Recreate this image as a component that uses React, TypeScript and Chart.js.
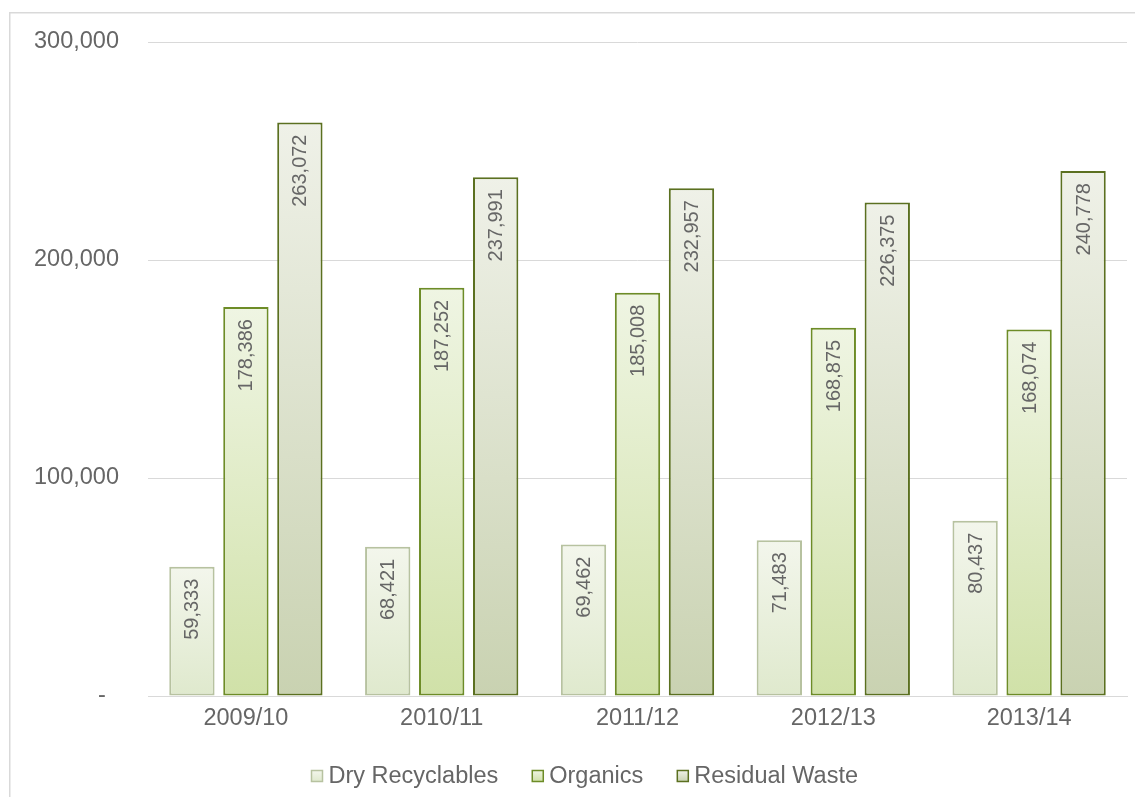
import React, { useEffect, useRef } from "react";
import { Chart, registerables } from "chart.js";

Chart.register(...registerables);

const categories = ["2009/10", "2010/11", "2011/12", "2012/13", "2013/14"];
const seriesNames = ["Dry Recyclables", "Organics", "Residual Waste"];
const dryRecyclables = [59333, 68421, 69462, 71483, 80437];
const organics = [178386, 187252, 185008, 168875, 168074];
const residualWaste = [263072, 237991, 232957, 226375, 240778];
const yTicks = [0, 100000, 200000, 300000];

const gradTop = ["#f3f6ec", "#eff5e3", "#eff1e8"];
const gradBottom = ["#dfe9cd", "#d0e1a8", "#c9d2b1"];
const borders = ["#b7c2a0", "#6d8c27", "#5b7020"];

const FONT = "'Liberation Sans', Arial, sans-serif";
const TEXT = "#666666";
const AXIS_FONT = 23.5;

function fmt(v: number) {
  return v.toLocaleString("en-US");
}

function gradientFor(i: number) {
  return (c: any) => {
    const chart = c.chart;
    const y = chart.scales?.y;
    if (!y || c.type !== "data" || !c.parsed) return gradBottom[i];
    const top = y.getPixelForValue(c.parsed.y);
    const base = y.getPixelForValue(0);
    if (!isFinite(top) || !isFinite(base) || top === base) return gradBottom[i];
    const g = chart.ctx.createLinearGradient(0, top, 0, base);
    g.addColorStop(0, gradTop[i]);
    g.addColorStop(1, gradBottom[i]);
    return g;
  };
}

const framePlugin = {
  id: "frame",
  beforeDraw(chart: any) {
    const ctx = chart.ctx;
    ctx.save();
    ctx.fillStyle = "#ffffff";
    ctx.fillRect(0, 0, chart.width, chart.height);
    ctx.strokeStyle = "#d9d9d9";
    ctx.lineWidth = 1.5;
    ctx.beginPath();
    ctx.moveTo(1.75, chart.height);
    ctx.lineTo(1.75, 4.75);
    ctx.lineTo(chart.width, 4.75);
    ctx.stroke();
    ctx.restore();
  },
};

const labelPlugin = {
  id: "barLabels",
  afterDatasetsDraw(chart: any) {
    const ctx = chart.ctx;
    ctx.save();
    ctx.fillStyle = TEXT;
    ctx.font = `20px ${FONT}`;
    ctx.textAlign = "right";
    ctx.textBaseline = "middle";
    chart.data.datasets.forEach((ds: any, di: number) => {
      const meta = chart.getDatasetMeta(di);
      meta.data.forEach((bar: any, i: number) => {
        const v = ds.data[i];
        ctx.save();
        ctx.translate(bar.x, bar.y + 12);
        ctx.rotate(-Math.PI / 2);
        ctx.fillText(fmt(v), 0, 1);
        ctx.restore();
      });
    });
    ctx.restore();
  },
};

const legendPlugin = {
  id: "customLegend",
  afterDraw(chart: any) {
    const ctx = chart.ctx;
    ctx.save();
    ctx.font = `${AXIS_FONT}px ${FONT}`;
    ctx.textBaseline = "middle";
    const box = 11;
    const gapBoxText = 6;
    const gapItems = 34;
    let x = 303.5;
    const y = 768;
    seriesNames.forEach((n, i) => {
      const g = ctx.createLinearGradient(0, y - box / 2, 0, y + box / 2);
      g.addColorStop(0, gradTop[i]);
      g.addColorStop(1, gradBottom[i]);
      ctx.fillStyle = g;
      ctx.fillRect(x, y - box / 2, box, box);
      ctx.strokeStyle = borders[i];
      ctx.lineWidth = 1.5;
      ctx.strokeRect(x, y - box / 2, box, box);
      ctx.fillStyle = TEXT;
      const tx = x + box + gapBoxText;
      ctx.fillText(n, tx, y + 1);
      x = tx + ctx.measureText(n).width + gapItems;
    });
    ctx.restore();
  },
};

export default function App() {
  const ref = useRef<HTMLCanvasElement | null>(null);
  useEffect(() => {
    if (!ref.current) return;
    const series = [dryRecyclables, organics, residualWaste];
    const chart = new Chart(ref.current, {
      type: "bar",
      data: {
        labels: categories,
        datasets: series.map((d, i) => ({
          label: seriesNames[i],
          data: d,
          backgroundColor: gradientFor(i),
          borderColor: borders[i],
          borderWidth: 2,
          borderSkipped: false,
          categoryPercentage: 0.827,
          barPercentage: 0.84,
        })),
      },
      options: {
        responsive: false,
        animation: false,
        devicePixelRatio: 1,
        layout: { padding: { left: 0, right: 16, top: 34, bottom: 0 } },
        plugins: {
          legend: { display: false },
          tooltip: { enabled: false },
        },
        scales: {
          x: {
            grid: { display: false, drawTicks: false },
            border: { display: true, color: "#d9d9d9", width: 1 },
            ticks: {
              color: TEXT,
              font: { family: FONT, size: AXIS_FONT },
              padding: 8,
            },
            afterFit(scale: any) {
              scale.height = 101;
            },
          },
          y: {
            min: 0,
            max: 300000,
            afterBuildTicks(scale: any) {
              scale.ticks = yTicks.map((v) => ({ value: v }));
            },
            grid: { color: "#d9d9d9", lineWidth: 1, drawTicks: false },
            border: { display: false },
            ticks: {
              color: TEXT,
              font: { family: FONT, size: AXIS_FONT },
              padding: 29,
              callback: (v: any) => (Number(v) === 0 ? "-  " : fmt(Number(v))),
            },
            afterFit(scale: any) {
              scale.width = 140;
              scale.paddingTop = 0;
              scale.paddingBottom = 0;
            },
          },
        },
      },
      plugins: [framePlugin, labelPlugin, legendPlugin],
    });
    return () => chart.destroy();
  }, []);
  return (
    <div style={{ width: 1135, height: 789 }}>
      <canvas ref={ref} width={1135} height={789} style={{ display: "block" }} />
    </div>
  );
}
